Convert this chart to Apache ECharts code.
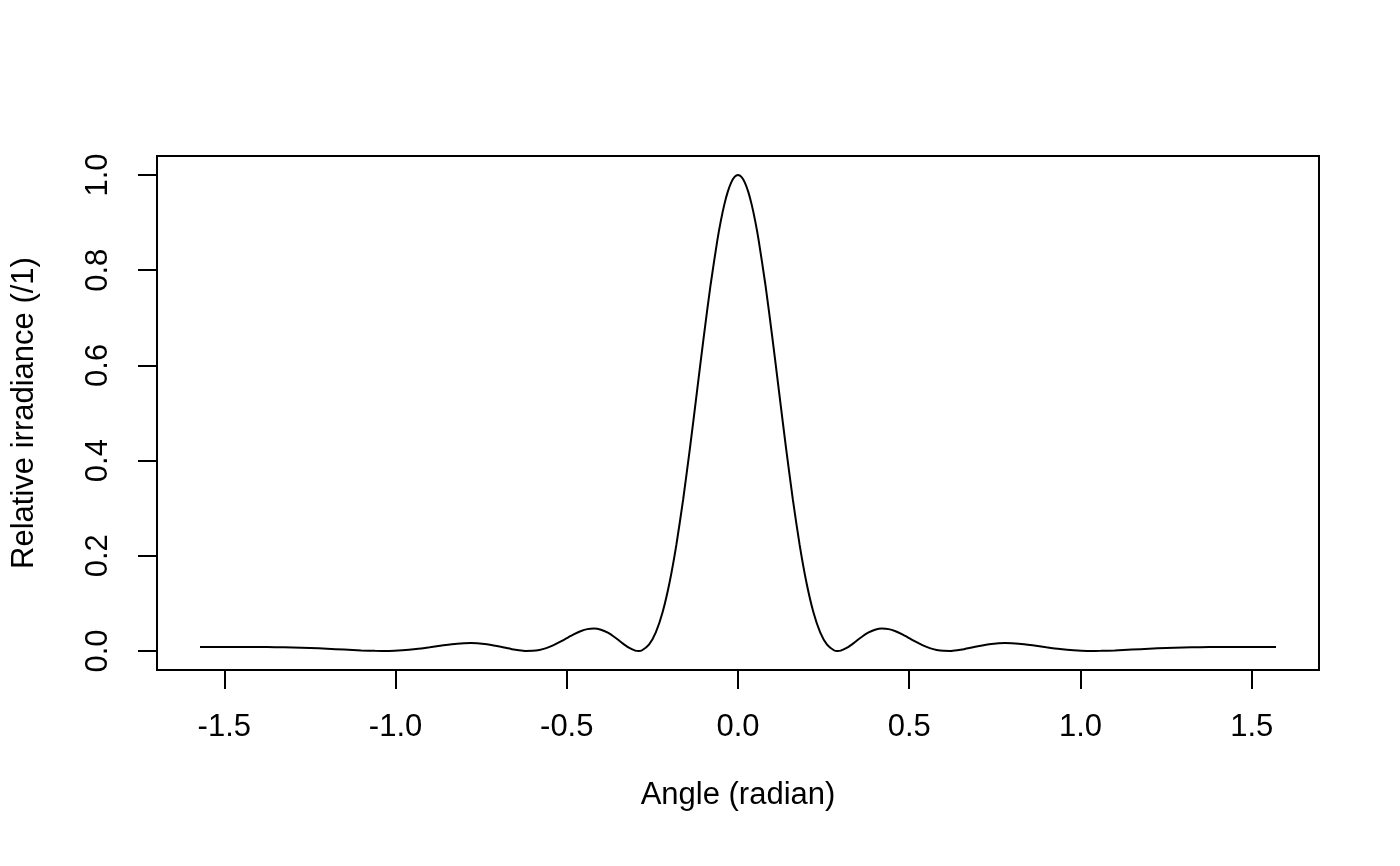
<html>
<head>
    <meta charset="utf-8">
    <script type="text/javascript" src="https://cdn.jsdelivr.net/npm/echarts@6/dist/echarts.min.js"></script>
    <style>
        html, body { margin: 0; padding: 0; background: #fff; }
        #Chart { width: 1400px; height: 866px; }
    </style>
    <title>Relative irradiance</title>
</head>
<body>
<div id="Chart"></div>
<script>
    // angle (radian)
    var angle = [
        -1.571, -1.50, -1.45, -1.40, -1.35, -1.30, -1.25, -1.20, -1.15, -1.10,
        -1.06, -1.02, -0.98, -0.94, -0.90, -0.86, -0.82, -0.78, -0.74, -0.70,
        -0.66, -0.64, -0.62, -0.60, -0.58, -0.56, -0.54, -0.52, -0.50, -0.48,
        -0.46, -0.44, -0.42, -0.40, -0.38, -0.36, -0.34, -0.32, -0.30, -0.29,
        -0.28, -0.26, -0.24, -0.22, -0.20, -0.18, -0.16, -0.14, -0.12, -0.10,
        -0.08, -0.06, -0.05, -0.04, -0.03, -0.02, -0.01, 0.00,
        0.01, 0.02, 0.03, 0.04, 0.05, 0.06, 0.08, 0.10, 0.12, 0.14, 0.16, 0.18, 0.20,
        0.22, 0.24, 0.26, 0.28, 0.29, 0.30, 0.32, 0.34, 0.36, 0.38,
        0.40, 0.42, 0.44, 0.46, 0.48, 0.50, 0.52, 0.54, 0.56, 0.58,
        0.60, 0.62, 0.64, 0.66, 0.70, 0.74, 0.78, 0.82, 0.86, 0.90,
        0.94, 0.98, 1.02, 1.06, 1.10, 1.15, 1.20, 1.25, 1.30, 1.35,
        1.40, 1.45, 1.50, 1.571
    ];
    // relative irradiance (/1)
    var irradiance = [
        0.0083, 0.0083, 0.0083, 0.0082, 0.0079, 0.0073, 0.0062, 0.0047, 0.0029, 0.0011,
        0.0002, 0.0001, 0.0013, 0.0039, 0.0077, 0.0119, 0.0153, 0.0165, 0.0145, 0.0097,
        0.0038, 0.0015, 0.0001, 0.0003, 0.0022, 0.0060, 0.0117, 0.0189, 0.0269, 0.0347,
        0.0414, 0.0459, 0.0471, 0.0446, 0.0383, 0.0289, 0.0178, 0.0075, 0.0008, 0.0000,
        0.0015, 0.0131, 0.0390, 0.0819, 0.1433, 0.2229, 0.3190, 0.4279, 0.5437, 0.6602,
        0.7695, 0.8644, 0.9041, 0.9378, 0.9646, 0.9840, 0.9960, 1.0000,
        0.9960, 0.9840, 0.9646, 0.9378, 0.9041, 0.8644, 0.7695, 0.6602, 0.5437, 0.4279, 0.3190, 0.2229, 0.1433,
        0.0819, 0.0390, 0.0131, 0.0015, 0.0000, 0.0008, 0.0075, 0.0178, 0.0289, 0.0383,
        0.0446, 0.0471, 0.0459, 0.0414, 0.0347, 0.0269, 0.0189, 0.0117, 0.0060, 0.0022,
        0.0003, 0.0001, 0.0015, 0.0038, 0.0097, 0.0145, 0.0165, 0.0153, 0.0119, 0.0077,
        0.0039, 0.0013, 0.0001, 0.0002, 0.0011, 0.0029, 0.0047, 0.0062, 0.0073, 0.0079,
        0.0082, 0.0083, 0.0083, 0.0083
    ];
    // tick positions
    var xTicks = [-1.5, -1.0, -0.5, 0.0, 0.5, 1.0, 1.5];
    var yTicks = [0.0, 0.2, 0.4, 0.6, 0.8, 1.0];

    var points = [];
    for (var i = 0; i < angle.length; i++) {
        points.push([angle[i], irradiance[i]]);
    }

    var chart = echarts.init(document.getElementById('Chart'));
    var font = 'Liberation Sans, Arial, sans-serif';
    var option = {
        animation: false,
        backgroundColor: '#ffffff',
        grid: {
            left: 157, top: 156, width: 1162, height: 514,
            show: true, borderColor: '#000', borderWidth: 2, backgroundColor: 'transparent'
        },
        xAxis: {
            type: 'value',
            min: -1.6965, max: 1.6965,
            name: 'Angle (radian)',
            nameLocation: 'middle',
            nameGap: 110,
            nameTextStyle: { color: '#000', fontSize: 31, fontFamily: font },
            splitLine: { show: false },
            axisLine: { show: false, onZero: false },
            axisTick: { show: true, inside: false, length: 19, customValues: xTicks,
                lineStyle: { color: '#000', width: 2 } },
            axisLabel: { customValues: xTicks, margin: 42, color: '#000', fontSize: 31, fontFamily: font,
                formatter: function (v) { return v.toFixed(1); } }
        },
        yAxis: {
            type: 'value',
            min: -0.04, max: 1.04,
            name: 'Relative irradiance (/1)',
            nameLocation: 'middle',
            nameGap: 117,
            nameRotate: 90,
            nameTextStyle: { color: '#000', fontSize: 31, fontFamily: font },
            splitLine: { show: false },
            axisLine: { show: false, onZero: false },
            axisTick: { show: true, inside: false, length: 19, customValues: yTicks,
                lineStyle: { color: '#000', width: 2 } },
            axisLabel: { customValues: yTicks, rotate: 90, margin: 43, color: '#000', fontSize: 31, fontFamily: font,
                formatter: function (v) { return v.toFixed(1); } }
        },
        series: [{
            type: 'line',
            data: points,
            showSymbol: false,
            smooth: 0.2,
            lineStyle: { color: '#000', width: 2 }
        }]
    };
    chart.setOption(option);
</script>
</body>
</html>
